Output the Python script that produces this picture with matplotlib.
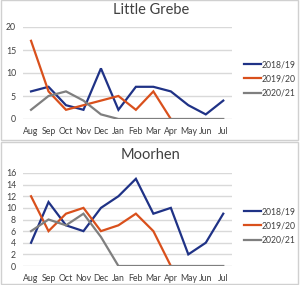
import numpy as np
import matplotlib

matplotlib.use("Agg")
from matplotlib import pyplot as plt
from matplotlib.patches import Rectangle

months = ["Aug", "Sep", "Oct", "Nov", "Dec", "Jan", "Feb", "Mar", "Apr", "May", "Jun", "Jul"]
seasons = ["2018/19", "2019/20", "2020/21"]

grebe_1819 = [6, 7, 3, 2, 11, 2, 7, 7, 6, 3, 1, 4]
grebe_1920 = [17, 6, 2, 3, 4, 5, 2, 6, 0]
grebe_2021 = [2, 5, 6, 4, 1, 0, 0, 0, 0, 0, 0, 0]

moorhen_1819 = [4, 11, 7, 6, 10, 12, 15, 9, 10, 2, 4, 9]
moorhen_1920 = [12, 6, 9, 10, 6, 7, 9, 6, 0]
moorhen_2021 = [6, 8, 7, 9, 5, 0, 0, 0, 0, 0, 0, 0]

colors = ["#1f3286", "#d9501c", "#7f7f7f"]

plt.rcParams['font.family'] = ['Lato', 'DejaVu Sans']

W, H = 300, 285
fig = plt.figure(figsize=(W / 100, H / 100), dpi=100)


def px_box(x0, y0, x1, y1):
    # pixel box (top-left origin) -> figure fraction rect
    return [x0 / W, 1 - y1 / H, (x1 - x0) / W, (y1 - y0) / H]


# panel frames
for y0, y1 in [(0, 140), (142, 284)]:
    fig.patches.append(Rectangle((1 / W, 1 - y1 / H), 297 / W, (y1 - y0) / H,
                                 transform=fig.transFigure, fill=False,
                                 edgecolor="#d0d0d0", linewidth=1))


def draw(ax, title, series, ymax, ystep, title_y, legend_y):
    x = np.arange(len(months))
    for vals, c, lab in zip(series, colors, seasons):
        ax.plot(x[:len(vals)], vals, color=c, linewidth=1.6, label=lab,
                solid_joinstyle="miter")
    ax.set_xlim(-0.46, 11.5)
    ax.set_ylim(0, ymax)
    ax.set_yticks(np.arange(0, ymax + 1, ystep))
    ax.set_xticks(x)
    ax.set_xticklabels(months)
    ax.grid(axis="y", color="#d9d9d9", linewidth=1)
    ax.set_axisbelow(True)
    for s in ax.spines.values():
        s.set_visible(False)
    ax.tick_params(length=0, labelsize=6.3, colors="#404040", pad=5)
    ax.tick_params(axis="x", pad=6)
    fig.text(151 / W, 1 - title_y / H, title, ha="center", va="center",
             fontsize=10.5, color="#404040")
    ax.legend(loc="center left", bbox_to_anchor=(1.058, legend_y), frameon=False,
              fontsize=6.2, handlelength=2.0, handletextpad=0.05,
              labelspacing=0.6, borderaxespad=0, borderpad=0,
              labelcolor="#404040")


ax1 = fig.add_axes(px_box(23, 27, 232, 119))
draw(ax1, "Little Grebe", [grebe_1819, grebe_1920, grebe_2021], 20, 5, 10, 0.435)

ax2 = fig.add_axes(px_box(23, 173, 232, 266))
draw(ax2, "Moorhen", [moorhen_1819, moorhen_1920, moorhen_2021], 16, 2, 155, 0.43)

fig.savefig("out.png", dpi=100)
